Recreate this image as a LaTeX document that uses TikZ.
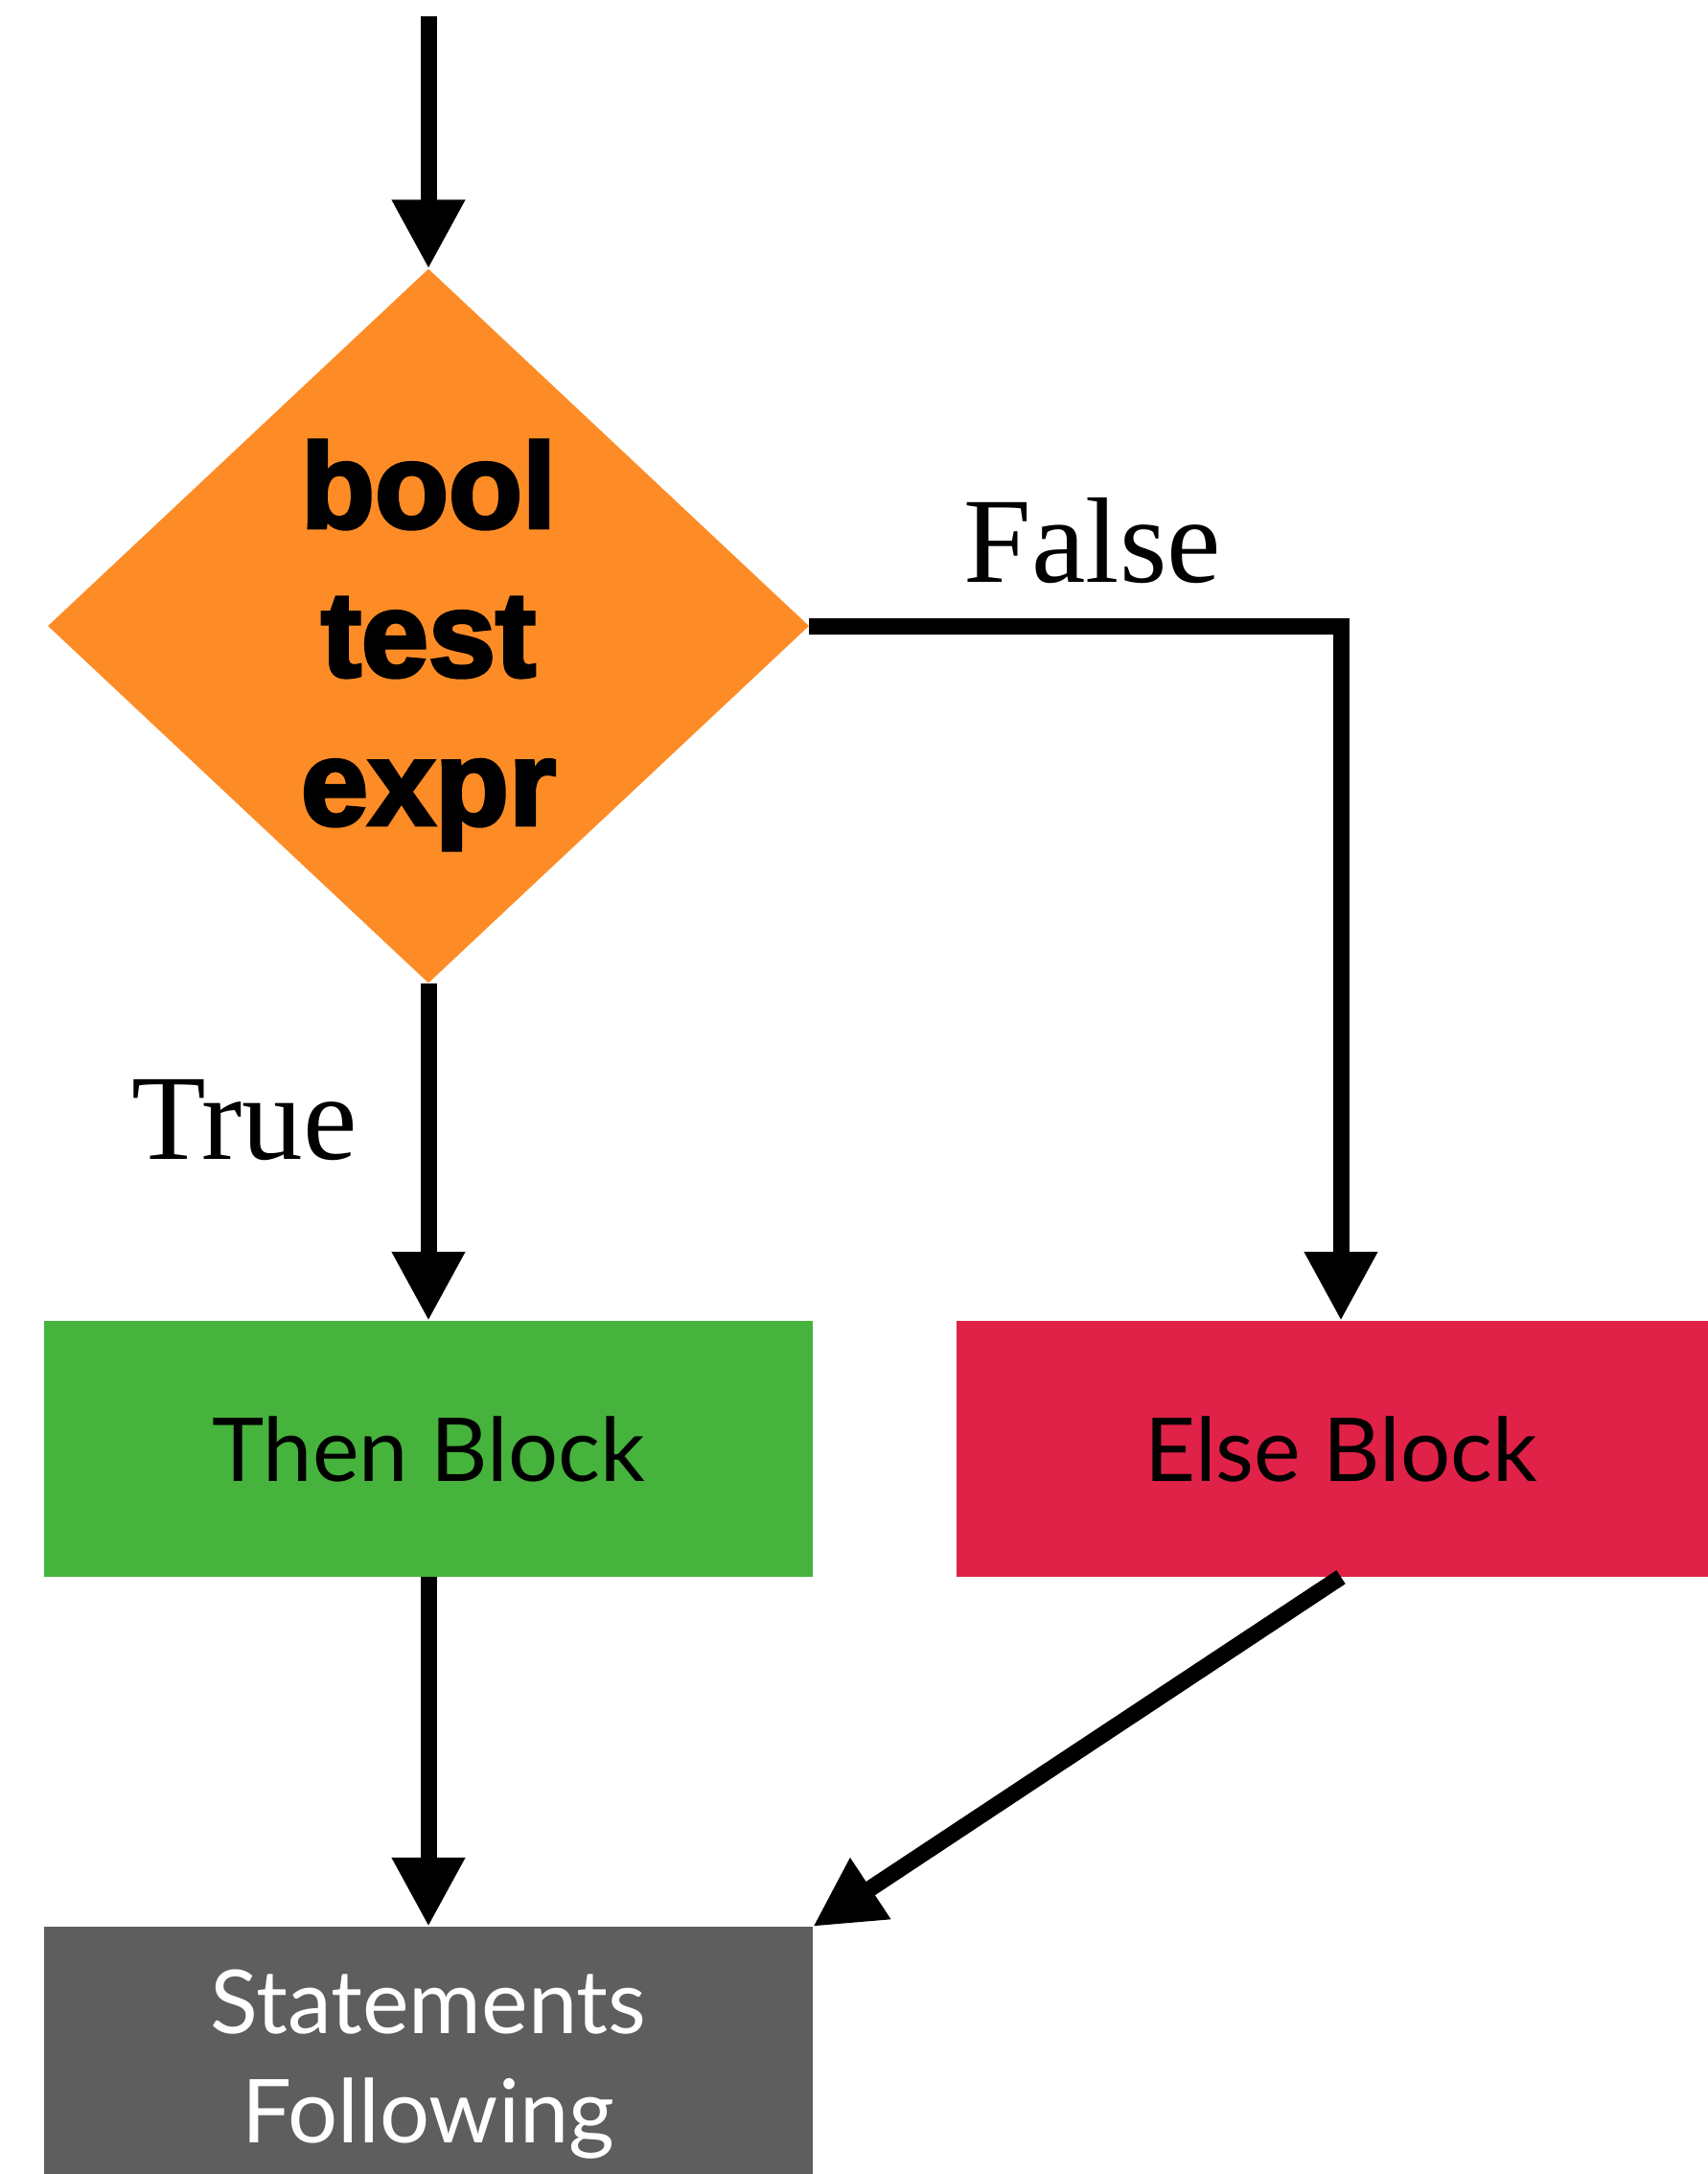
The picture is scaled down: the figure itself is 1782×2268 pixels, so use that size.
\documentclass[tikz,border=0pt]{standalone}
\usepackage{fontspec}
\setmainfont{Liberation Serif}
\newfontfamily\heavyfont{Liberation Sans}[BoldFeatures={FakeBold=3}]
\newfontfamily\blockfont{Lato}
\usetikzlibrary{arrows.meta,shapes.geometric}
\definecolor{cOrange}{RGB}{253,140,38}
\definecolor{cGreen}{RGB}{70,179,61}
\definecolor{cRed}{RGB}{224,33,72}
\definecolor{cGray}{RGB}{94,94,94}
\begin{document}
\begin{tikzpicture}[x=1pt,y=-1pt,
  flow/.style={line width=17pt, -{Triangle[length=72pt,width=72pt]}},
  block/.style={rectangle, minimum width=802pt, minimum height=267pt, inner sep=0pt, align=center,
    font=\blockfont\fontsize{92}{114}\selectfont},
  lbl/.style={font=\fontsize{127}{150}\selectfont, inner sep=0pt}
]
\useasboundingbox (0,0) rectangle (1782,2268);
\fill[white] (0,0) rectangle (1782,2268);
\coordinate (start) at (447,17);
\node[diamond, fill=cOrange, minimum width=794pt, minimum height=745pt, inner sep=0pt] (test) at (447,653) {};
\node[align=center, inner sep=0pt, font=\heavyfont\bfseries\fontsize{126}{155}\selectfont]
  (testtext) at ([yshift=-20pt]test.center) {bool\\test\\expr};
\node[block, fill=cGreen] (then) at (447,1511.5) {Then Block};
\node[block, fill=cRed] (else) at (1399,1511.5) {Else Block};
\node[block, fill=cGray, text=white, minimum height=288pt] (stm) at (447,2154) {Statements\\Following};
\node[lbl] (tlab) at (255,1169) {True};
\node[lbl] (flab) at (1140,564) {False};
\draw[flow] (start) -- (test.north);
\draw[flow] (test.south) -- (then.north);
\draw[flow] (test.east) -| (else.north);
\draw[flow] (then.south) -- (stm.north);
\draw[flow] (else.south) -- (stm.north east);
\end{tikzpicture}
\end{document}
